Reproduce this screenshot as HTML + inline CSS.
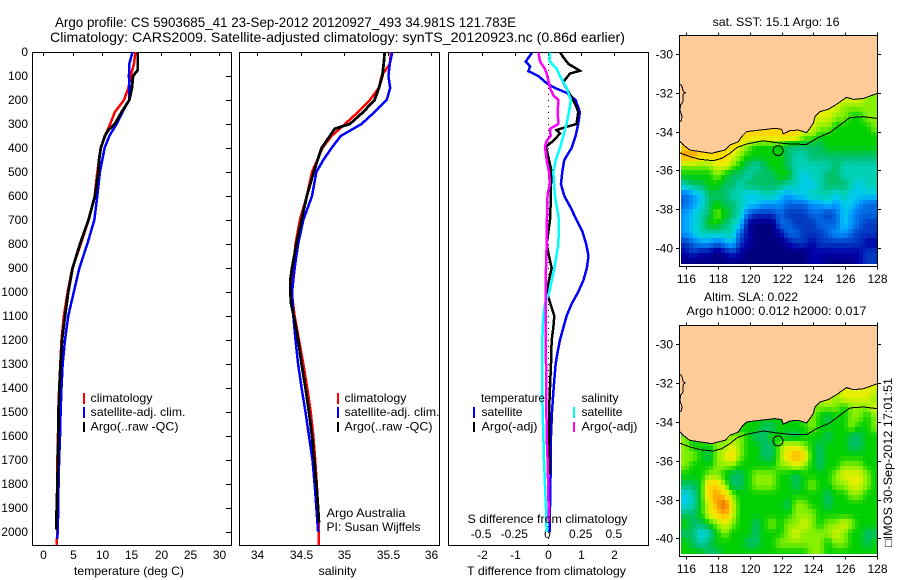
<!DOCTYPE html>
<html lang="en">
<head>
<meta charset="utf-8">
<title>Argo profile 5903685_41</title>
<style>
html,body{margin:0;padding:0;background:#fff;}
svg{display:block;}
text{font-family:"Liberation Sans",sans-serif;font-size:12px;fill:#000;}
.title{font-size:14px;}
.frame{fill:none;stroke:#000;stroke-width:1;shape-rendering:crispEdges;}
.crisp{shape-rendering:crispEdges;}
</style>
</head>
<body>
<svg id="fig" xmlns="http://www.w3.org/2000/svg" width="900" height="580" viewBox="0 0 900 580">
  <defs>
    <clipPath id="clip-sst"><rect x="679.5" y="35.5" width="198" height="231"/></clipPath>
    <clipPath id="clip-sla"><rect x="679.5" y="325.5" width="198" height="231"/></clipPath>
    <clipPath id="clip-p3"><rect x="448.5" y="52.5" width="200" height="493"/></clipPath>
  </defs>
  <text class="title" x="55" y="27" textLength="461" lengthAdjust="spacingAndGlyphs">Argo profile: CS 5903685_41 23-Sep-2012 20120927_493 34.981S 121.783E</text>
  <text class="title" x="50" y="42" textLength="575" lengthAdjust="spacingAndGlyphs">Climatology: CARS2009. Satellite-adjusted climatology: synTS_20120923.nc (0.86d earlier)</text>

  <g id="p1"></g>
  <g id="p2"></g>
  <g id="p3"></g>
  <g id="m1"></g>
  <g id="m2"></g>

  <text x="74" y="575" textLength="110" lengthAdjust="spacingAndGlyphs">temperature (deg C)</text>
  <text x="318.5" y="575" textLength="38" lengthAdjust="spacingAndGlyphs">salinity</text>
  <text x="467" y="575" textLength="159" lengthAdjust="spacingAndGlyphs">T difference from climatology</text>
  <text x="467.5" y="523" textLength="160" lengthAdjust="spacingAndGlyphs">S difference from climatology</text>

  <g>
    <rect class="crisp" x="83" y="393" width="2" height="11" fill="#ff0000"/>
    <rect class="crisp" x="83" y="407" width="2" height="11" fill="#0000ff"/>
    <rect class="crisp" x="83" y="422" width="2" height="10" fill="#000"/>
    <text x="90.5" y="402" textLength="62" lengthAdjust="spacingAndGlyphs">climatology</text>
    <text x="90.5" y="416" textLength="95" lengthAdjust="spacingAndGlyphs">satellite-adj. clim.</text>
    <text x="90.5" y="430.5" textLength="88" lengthAdjust="spacingAndGlyphs">Argo(..raw -QC)</text>
  </g>
  <g>
    <rect class="crisp" x="337" y="393" width="2" height="11" fill="#ff0000"/>
    <rect class="crisp" x="337" y="407" width="2" height="11" fill="#0000ff"/>
    <rect class="crisp" x="337" y="422" width="2" height="10" fill="#000"/>
    <text x="344.5" y="402" textLength="62" lengthAdjust="spacingAndGlyphs">climatology</text>
    <text x="344.5" y="416" textLength="95" lengthAdjust="spacingAndGlyphs">satellite-adj. clim.</text>
    <text x="344.5" y="430.5" textLength="88" lengthAdjust="spacingAndGlyphs">Argo(..raw -QC)</text>
  </g>
  <text x="326.5" y="517" textLength="79" lengthAdjust="spacingAndGlyphs">Argo Australia</text>
  <text x="326.5" y="531" textLength="94" lengthAdjust="spacingAndGlyphs">PI: Susan Wijffels</text>

  <g>
    <text x="481" y="402" textLength="64" lengthAdjust="spacingAndGlyphs">temperature</text>
    <rect class="crisp" x="473" y="407" width="2" height="11" fill="#0000ff"/>
    <text x="481.5" y="416" textLength="41" lengthAdjust="spacingAndGlyphs">satellite</text>
    <rect class="crisp" x="473" y="422" width="2" height="10" fill="#000"/>
    <text x="481.5" y="430.5" textLength="56" lengthAdjust="spacingAndGlyphs">Argo(-adj)</text>
    <text x="581.5" y="402" textLength="37" lengthAdjust="spacingAndGlyphs">salinity</text>
    <rect class="crisp" x="573" y="407" width="2" height="11" fill="#00ffff"/>
    <text x="581.5" y="416" textLength="41" lengthAdjust="spacingAndGlyphs">satellite</text>
    <rect class="crisp" x="573" y="422" width="2" height="10" fill="#ff00ff"/>
    <text x="581.5" y="430.5" textLength="56" lengthAdjust="spacingAndGlyphs">Argo(-adj)</text>
  </g>

  <text x="712.5" y="26" textLength="127" lengthAdjust="spacingAndGlyphs">sat. SST: 15.1  Argo: 16</text>
  <text x="704" y="301" textLength="94" lengthAdjust="spacingAndGlyphs">Altim. SLA: 0.022</text>
  <text x="686.5" y="315" textLength="180" lengthAdjust="spacingAndGlyphs">Argo h1000: 0.012 h2000: 0.017</text>
  <text transform="translate(892,547) rotate(-90)" x="0" y="0" textLength="169" lengthAdjust="spacingAndGlyphs">□IMOS 30-Sep-2012 17:01:51</text>
</svg>

<script>
// ---- axis tick values ----
var depthTicks = [0,100,200,300,400,500,600,700,800,900,1000,1100,1200,1300,1400,1500,1600,1700,1800,1900,2000];
var tempTicks = [0,5,10,15,20,25,30];
var salTicks = [34,34.5,35,35.5,36];
var tDiffTicks = [-2,-1,0,1,2];
var sDiffTicks = [-0.5,-0.25,0,0.25,0.5];
var lonTicks = [116,118,120,122,124,126,128];
var latTicks = [-30,-32,-34,-36,-38,-40];

// ---- temperature profiles (deg C) ----
var tempClimDepth = [0,50,100,150,200,250,300,350,400,500,600,700,800,900,1000,1100,1200,1300,1400,1500,1600,1700,1800,1900,2000,2055];
var tempClimValue = [15.7,15.45,14.9,14.5,13.75,12.2,11.4,10.5,9.8,9.2,8.75,7.7,6.4,4.95,4.15,3.5,3.1,2.9,2.7,2.55,2.5,2.4,2.35,2.35,2.4,2.25];
var tempSatDepth = [0,50,100,150,200,250,300,350,400,500,600,700,800,900,1000,1100,1200,1300,1400,1500,1600,1700,1800,1900,1950,2030];
var tempSatValue = [15.2,14.65,14.6,14.65,14.65,13.5,12.5,11.25,10.45,9.65,9.2,8.7,7.5,6.15,5.2,4.25,3.7,3.3,3.1,2.95,2.85,2.7,2.6,2.55,2.5,2.4];
var tempArgoDepth = [0,75,100,150,200,250,300,325,350,400,450,500,600,700,800,900,1000,1100,1200,1300,1400,1500,1600,1700,1800,1900,1950,1990];
var tempArgoValue = [16.1,16.1,15.3,15.1,14.66,13.35,12.2,11.1,10.5,9.8,9.5,9.4,8.8,7.7,6.25,5.0,4.26,3.7,3.2,2.95,2.75,2.6,2.55,2.5,2.4,2.3,2.2,2.2];

// ---- salinity profiles (PSU) ----
var salClimDepth = [0,50,100,150,200,250,300,350,400,500,600,700,800,900,1000,1100,1200,1300,1400,1500,1600,1700,1800,1900,2000,2055];
var salClimValue = [35.54,35.525,35.43,35.40,35.295,35.16,35.01,34.855,34.75,34.63,34.57,34.49,34.44,34.415,34.395,34.43,34.48,34.53,34.575,34.615,34.645,34.667,34.685,34.70,34.71,34.71];
var salSatDepth = [0,50,100,150,200,250,300,350,400,450,500,600,700,800,900,1000,1100,1200,1300,1400,1500,1600,1700,1800,1900,2000];
var salSatValue = [35.555,35.525,35.51,35.53,35.49,35.35,35.2,34.96,34.855,34.76,34.68,34.63,34.53,34.47,34.43,34.40,34.415,34.44,34.47,34.51,34.555,34.595,34.635,34.66,34.68,34.70];
var salArgoDepth = [0,50,100,150,200,250,300,320,350,400,500,600,700,800,900,950,1000,1050,1100,1200,1300,1400,1500,1600,1700,1800,1900,1960];
var salArgoValue = [35.467,35.455,35.44,35.40,35.35,35.22,35.065,34.89,34.835,34.74,34.65,34.57,34.51,34.45,34.40,34.38,34.38,34.39,34.42,34.47,34.51,34.555,34.595,34.63,34.655,34.68,34.70,34.71];

// ---- difference profiles: T in deg C, S in PSU ----
var dtSatDepth = [0,40,60,80,100,130,150,170,200,250,300,350,400,450,500,550,600,650,700,750,800,850,900,950,1000,1050,1100,1150,1200,1250,1300,1400,1500,1600,1700,1800,1900,2000];
var dtSatValue = [-0.47,-0.67,-0.54,-0.59,-0.29,-0.04,0.21,0.56,0.83,0.96,0.91,0.83,0.71,0.49,0.43,0.39,0.49,0.69,0.86,1.04,1.15,1.22,1.17,1.07,0.91,0.71,0.56,0.46,0.36,0.29,0.23,0.17,0.12,0.09,0.09,0.07,0.06,0.06];
var dtArgoDepth = [0,20,50,78,90,125,150,200,230,250,300,310,325,340,370,395,450,500,550,600,700,800,850,900,950,1000,1030,1100,1150,1200,1300,1400,1500,1600,1700,1760];
var dtArgoValue = [0.36,0.45,0.62,0.96,0.66,0.46,0.55,0.76,0.86,0.91,0.86,0.61,0.26,0.36,0.16,-0.06,0.03,0.11,0.09,0.09,0.06,-0.04,0.03,0.11,0.03,-0.04,0.03,0.19,0.16,0.11,0.09,0.06,0.03,0.03,0.05,0.06];
var dsSatDepth = [0,40,70,100,150,200,250,300,350,400,450,500,550,600,700,800,900,1000,1050,1100,1200,1300,1400,1500,1600,1700,1800,1900,2000];
var dsSatValue = [0.015,0.015,0.065,0.09,0.14,0.173,0.158,0.14,0.115,0.09,0.058,0.04,0.045,0.053,0.083,0.078,0.048,0.01,-0.023,-0.035,-0.043,-0.045,-0.045,-0.04,-0.035,-0.03,-0.023,-0.015,-0.01];
var dsArgoDepth = [0,40,70,100,150,180,200,250,300,320,350,370,395,450,500,550,590,700,800,900,1000,1100,1300,1600,1700,1900,1960];
var dsArgoValue = [-0.073,-0.06,-0.023,-0.005,0.015,0.04,0.078,0.073,0.078,0.015,0.02,-0.01,-0.023,-0.01,0.008,0.015,-0.003,-0.008,-0.01,-0.015,-0.018,-0.018,-0.015,-0.01,-0.003,0.005,0.008];

// ---- map data: colour-scale index per 0.5 degree cell, rows from 32S southward ----
var sstGrid = [
[11,11,11,11,11,11,11,11,11,11,11,11,11,11,11,10,10,10,10,10,10,10,10,9,9],
[11,11,11,11,11,11,11,11,11,11,11,11,11,11,11,10,10,10,10,10,9,9,9,9,9],
[11,11,11,11,11,11,11,11,11,11,11,11,11,11,11,10,10,10,10,9,9,8,8,9,9],
[11,11,11,11,11,11,11,11,11,11,11,11,11,11,11,10,10,9,9,8,8,8,8,8,9],
[11,11,11,11,11,11,11,11,11,11,11,11,11,11,11,9,9,8,8,8,8,8,8,8,8],
[11,11,11,11,11,11,11,10,9,8,8,8,8,7,7,7,7,7,8,8,8,8,8,8,8],
[12,12,11,11,11,11,10,9,8,8,8,8,8,7,6,6,7,7,7,7,7,7,7,7,7],
[9,9,9,9,10,10,9,8,7,6,7,8,8,7,6,6,6,6,6,7,6,6,6,6,6],
[8,8,8,8,9,8,7,7,6,7,7,7,8,8,6,5,6,6,7,7,6,6,6,6,6],
[6,7,7,8,8,7,7,6,7,7,7,7,7,6,6,5,5,6,7,7,7,6,5,6,6],
[3,4,5,7,7,7,6,6,5,5,6,6,5,4,5,5,6,6,6,5,6,5,5,5,5],
[3,4,5,7,8,7,7,6,5,5,4,4,4,3,3,3,4,4,5,4,5,5,4,3,3],
[4,5,6,7,9,8,7,6,3,2,2,2,3,2,2,2,3,3,2,3,5,4,3,3,3],
[4,5,6,8,8,7,6,5,1,0,0,0,3,3,2,2,2,3,3,3,5,4,3,2,2],
[4,5,6,6,6,6,6,3,1,0,0,0,1,3,3,2,2,2,3,4,4,3,2,2,2],
[2,3,4,4,3,4,5,2,1,0,0,0,0,1,2,2,1,2,2,2,2,2,2,1,1],
[1,2,1,1,0,1,2,1,0,0,0,0,0,0,0,0,1,1,1,1,1,1,1,2,2],
[0,0,0,0,0,0,0,0,0,0,0,0,0,0,0,0,1,1,0,0,0,0,1,2,2]
];
var slaGrid = [
[8,8,8,8,8,8,8,8,8,8,8,8,8,8,8,8,8,8,9,10,10,10,10,10,10],
[8,8,8,8,8,8,8,8,8,8,8,8,8,8,8,9,9,9,10,9,10,10,10,10,9],
[8,8,8,8,8,8,8,8,8,8,8,8,8,8,8,9,9,9,9,9,8,9,9,9,10],
[8,8,8,8,8,8,8,8,8,8,8,8,8,8,8,9,9,8,7,8,8,9,9,8,9],
[8,8,8,8,8,8,8,8,8,8,7,7,8,8,8,8,9,8,8,8,8,9,8,8,9],
[9,8,9,9,9,9,9,9,8,7,7,8,8,7,7,8,8,8,7,8,8,7,7,8,8],
[9,8,8,8,9,9,10,9,8,8,7,7,9,10,10,9,8,7,8,8,8,7,7,8,8],
[9,9,8,7,9,10,11,9,8,8,7,7,9,11,12,11,8,7,8,8,8,8,8,8,8],
[9,8,8,8,9,9,9,8,8,8,8,8,9,9,10,9,8,7,8,8,9,9,9,8,8],
[8,8,8,9,9,8,7,7,8,9,9,9,8,8,7,8,8,8,8,9,10,10,10,9,8],
[7,7,8,11,11,9,7,7,8,9,9,9,8,8,7,8,9,8,8,9,9,10,10,9,8],
[5,6,8,11,12,11,9,8,8,8,8,8,8,8,8,8,8,8,7,8,8,9,9,8,8],
[5,6,8,10,12,13,10,8,8,8,8,8,8,7,9,9,8,8,7,8,8,8,8,8,8],
[7,7,8,10,11,12,10,8,8,8,8,8,8,8,9,9,9,8,8,8,8,8,8,8,8],
[8,7,7,8,9,10,9,8,8,7,8,9,8,9,9,10,9,8,9,9,10,9,8,8,8],
[7,7,5,6,8,9,8,8,8,7,8,8,8,9,10,9,9,9,9,10,9,8,8,7,7],
[8,7,6,7,8,8,8,8,7,7,8,8,9,9,9,9,9,9,8,9,9,8,8,7,8],
[8,8,8,7,7,8,8,8,8,8,8,8,8,8,8,8,9,9,8,8,8,8,8,8,8]
];
var coastLon = [115.56,115.81,116.23,116.86,117.60,118.02,118.44,118.75,119.28,119.49,119.80,120.64,121.59,122.01,122.11,122.53,123.06,123.58,123.79,124.00,124.11,124.42,124.95,125.47,126.10,126.53,127.16,128.04];
var coastLat = [-34.47,-34.69,-34.95,-35.03,-35.12,-35.03,-34.95,-34.69,-34.52,-34.26,-34.00,-33.92,-33.83,-33.88,-34.12,-33.95,-33.92,-34.05,-33.83,-33.57,-33.23,-32.97,-32.85,-32.59,-32.23,-32.34,-32.29,-32.03];
var isobathLon = [115.56,116.23,116.86,117.70,118.23,118.75,119.21,119.80,120.85,121.69,122.53,123.58,124.21,125.05,125.68,126.31,127.16,128.04];
var isobathLat = [-35.09,-35.29,-35.43,-35.50,-35.38,-35.12,-34.81,-34.64,-34.47,-34.57,-34.64,-34.66,-34.35,-34.05,-33.66,-33.28,-33.23,-33.32];
var westCoastLon = [115.64,115.75,115.81,115.94,115.81,115.79,115.64,115.60,115.73,115.68,115.56];
var westCoastLat = [-31.55,-31.72,-31.94,-31.99,-32.06,-32.46,-32.63,-32.89,-33.23,-33.44,-33.49];
var floatLon = [121.78];
var floatLat = [-34.98];

// ---- axis functions ----
function depthY(d){return 52+d*0.24;}
function tempX(t){return 43.3+t*5.867;}
function salX(s){return 257.3+(s-34)*86.85;}
function diffTX(t){return 548+t*33.2;}
function diffSX(s){return 548+s*4*33.2;}
function lonX(l){return 686.3+(l-116)*15.87;}
function latY(l,y30){return y30+(-30-l)*19.4;}

var NS='http://www.w3.org/2000/svg';
function mk(parent,tag,attrs,txt){
  var e=document.createElementNS(NS,tag);
  for(var k in attrs){e.setAttribute(k,attrs[k]);}
  if(txt!==undefined){e.textContent=txt;}
  parent.appendChild(e);
  return e;
}
function pts(xs,ys){
  var out=[];
  for(var i=0;i<xs.length;i++){out.push(xs[i].toFixed(2)+','+ys[i].toFixed(2));}
  return out.join(' ');
}
function profile(parent,name,vals,depths,xf,color,width,clip){
  var attrs={points:pts(vals.map(xf),depths.map(depthY)),fill:'none',stroke:color,'stroke-width':width,'stroke-linejoin':'miter','shape-rendering':'crispEdges'};
  if(clip){attrs['clip-path']=clip;}
  var e=mk(parent,'polyline',attrs);
  
  
}
function frame(parent,x,y,w,h,name){
  var e=mk(parent,'rect',{x:x,y:y,width:w,height:h,'class':'frame'});
  
  
}
function tick(parent,x1,y1,x2,y2){
  var e=mk(parent,'line',{x1:x1,y1:y1,x2:x2,y2:y2,stroke:'#000','stroke-width':1,'shape-rendering':'crispEdges'});
  
  
}
function label(parent,x,y,s,anchor){
  var e=mk(parent,'text',{x:x,y:y,'text-anchor':anchor},s);
  
  
}

// ---- panel 1: temperature ----
var p1=document.getElementById('p1');
frame(p1,32.5,52.5,199,493,'temperature-plot-frame');
depthTicks.forEach(function(d){
  var y=Math.round(depthY(d))+0.5;
  tick(p1,226,y,231,y);
  label(p1,28,y+3.5,String(d),'end');
});
tempTicks.forEach(function(t){
  var x=Math.round(tempX(t))+0.5;
  tick(p1,x,52,x,56);
  label(p1,x,559,String(t),'middle');
});
profile(p1,'temperature-climatology-line',tempClimValue,tempClimDepth,tempX,'#ff0000',2.5);
profile(p1,'temperature-satellite-line',tempSatValue,tempSatDepth,tempX,'#0000ff',2.5);
profile(p1,'temperature-argo-line',tempArgoValue,tempArgoDepth,tempX,'#000000',2.8);

// ---- panel 2: salinity ----
var p2=document.getElementById('p2');
frame(p2,239.5,52.5,200,493,'salinity-plot-frame');
salTicks.forEach(function(s){
  var x=Math.round(salX(s))+0.5;
  tick(p2,x,52,x,56);
  label(p2,x,559,String(s),'middle');
});
profile(p2,'salinity-climatology-line',salClimValue,salClimDepth,salX,'#ff0000',2.5);
profile(p2,'salinity-satellite-line',salSatValue,salSatDepth,salX,'#0000ff',2.5);
profile(p2,'salinity-argo-line',salArgoValue,salArgoDepth,salX,'#000000',2.8);

// ---- panel 3: differences ----
var p3=document.getElementById('p3');
frame(p3,448.5,52.5,200,493,'difference-plot-frame');
var zero=mk(p3,'line',{x1:diffTX(0)+0.5,y1:depthY(0),x2:diffTX(0)+0.5,y2:depthY(2055),stroke:'#000','stroke-width':1,'stroke-dasharray':'1 5','shape-rendering':'crispEdges'});


tDiffTicks.forEach(function(t){
  var x=Math.round(diffTX(t))+0.5;
  tick(p3,x,52,x,56);
  label(p3,x,559,String(t),'middle');
});
sDiffTicks.forEach(function(s){
  label(p3,diffSX(s)-0.5,538,String(s),'middle');
});
profile(p3,'t-diff-satellite-line',dtSatValue,dtSatDepth,diffTX,'#0000ff',2.5,'url(#clip-p3)');
profile(p3,'t-diff-argo-line',dtArgoValue,dtArgoDepth,diffTX,'#000000',2.5,'url(#clip-p3)');
profile(p3,'s-diff-satellite-line',dsSatValue,dsSatDepth,diffSX,'#00ffff',2.5,'url(#clip-p3)');
profile(p3,'s-diff-argo-line',dsArgoValue,dsArgoDepth,diffSX,'#ff00ff',2.5,'url(#clip-p3)');

// ---- maps ----
var scaleStops=[[0,0,127],[0,0,168],[0,56,192],[0,104,224],[0,152,255],[0,204,238],[0,208,180],[0,192,104],[0,208,0],[136,240,0],[228,240,0],[255,216,0],[255,156,0],[224,96,0]];
function scaleColor(v){
  var i=Math.max(0,Math.min(scaleStops.length-2,Math.floor(v)));
  var f=Math.max(0,Math.min(1,v-i));
  var a=scaleStops[i], b=scaleStops[i+1];
  return 'rgb('+Math.round(a[0]+(b[0]-a[0])*f)+','+Math.round(a[1]+(b[1]-a[1])*f)+','+Math.round(a[2]+(b[2]-a[2])*f)+')';
}
function gridValue(grid,u,v){
  var rows=grid.length, cols=grid[0].length;
  u=Math.max(0,Math.min(cols-1,u));
  v=Math.max(0,Math.min(rows-1,v));
  var c0=Math.floor(u), r0=Math.floor(v);
  var c1=Math.min(cols-1,c0+1), r1=Math.min(rows-1,r0+1);
  var fu=u-c0, fv=v-r0;
  return (grid[r0][c0]*(1-fu)+grid[r0][c1]*fu)*(1-fv)+(grid[r1][c0]*(1-fu)+grid[r1][c1]*fu)*fv;
}
function drawMap(group,grid,y30,frameTop,clipId,mapName,floatFill){
  var clip=mk(group,'g',{'clip-path':'url(#'+clipId+')'});
  
  
  var bottomLat=-40.82;
  var fineRows=grid.length*2, fineCols=grid[0].length*2;
  for(var j=0;j<fineRows;j++){
    for(var i=0;i<fineCols;i++){
      var lon0=115.66+i*0.25, lat0=-32-j*0.25;
      var latBottom=Math.max(lat0-0.25,bottomLat);
      var x0=Math.round(lonX(lon0)), x1=Math.round(lonX(lon0+0.25));
      var y0=Math.round(latY(lat0,y30)), y1=Math.round(latY(latBottom,y30));
      if(y1<=y0){continue;}
      var val=gridValue(grid,(i+0.5)/2-0.5,(j+0.5)/2-0.5);
      var cell=mk(clip,'rect',{x:x0,y:y0,width:x1-x0,height:y1-y0,fill:scaleColor(val),'shape-rendering':'crispEdges'});
      
      
    }
  }
  var left=679.5,right=877.5,top=frameTop;
  var landPts=left+','+top+' '+pts(coastLon.map(lonX),coastLat.map(function(l){return latY(l,y30);}))+' '+right+','+top;
  var land=mk(clip,'polygon',{points:landPts,fill:'#ffcc99',stroke:'none'});
  
  
  var coast=mk(clip,'polyline',{points:pts(coastLon.map(lonX),coastLat.map(function(l){return latY(l,y30);})),fill:'none',stroke:'#000','stroke-width':1,'shape-rendering':'crispEdges'});
  
  
  var iso=mk(clip,'polyline',{points:pts(isobathLon.map(lonX),isobathLat.map(function(l){return latY(l,y30);})),fill:'none',stroke:'#000','stroke-width':1,'shape-rendering':'crispEdges'});
  
  
  var west=mk(clip,'polyline',{points:pts(westCoastLon.map(lonX),westCoastLat.map(function(l){return latY(l,y30);})),fill:'none',stroke:'#000','stroke-width':1,'shape-rendering':'crispEdges'});
  
  
  var marker=mk(clip,'circle',{cx:lonX(floatLon[0]),cy:latY(floatLat[0],y30),r:5,fill:floatFill,stroke:'#000','stroke-width':1});
  
  
  frame(group,679.5,frameTop,198,231,mapName+'-frame');
  var bottom=frameTop+231;
  lonTicks.forEach(function(l){
    var x=Math.round(lonX(l))+0.5;
    tick(group,x,frameTop-3,x,frameTop);
    tick(group,x,bottom,x,bottom+3);
    label(group,x,bottom+16.5,String(l),'middle');
  });
  latTicks.forEach(function(l){
    var y=Math.round(latY(l,y30))+0.5;
    tick(group,676,y,679.5,y);
    tick(group,877.5,y,881,y);
    label(group,673,y+4,String(l),'end');
  });
}
drawMap(document.getElementById('m1'),sstGrid,54,35.5,'clip-sst','sst-map','#00cc00');
drawMap(document.getElementById('m2'),slaGrid,344.3,325.5,'clip-sla','sla-map','none');
</script>
</body>
</html>
